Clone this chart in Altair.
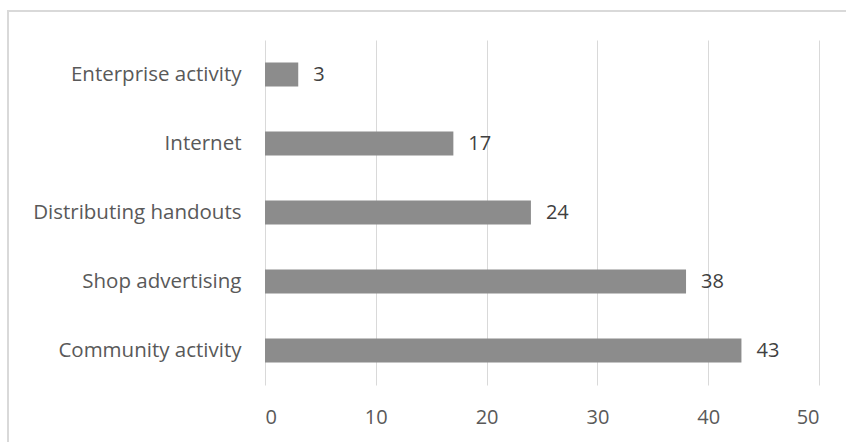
import altair as alt
import pandas as pd

categories = ["Enterprise activity", "Internet", "Distributing handouts", "Shop advertising", "Community activity"]
values = [3, 17, 24, 38, 43]
x_ticks = [0, 10, 20, 30, 40, 50]

df = pd.DataFrame({"category": categories, "value": values})

FONT = "Open Sans"
LEFT, TOP = 265, 40
W, H = 554, 345

base = alt.Chart(df)

border = alt.Chart(pd.DataFrame({"a": [0]})).mark_rect(
    fill=None, stroke="#d9d9d9", strokeWidth=2, clip=False
).encode(
    x=alt.value(8 - LEFT), x2=alt.value(900 - LEFT),
    y=alt.value(11 - TOP), y2=alt.value(500 - TOP),
)

x_axis = alt.Axis(values=x_ticks, title=None, grid=True, gridColor="#d9d9d9",
                  domain=False, ticks=False, labelFont=FONT, labelFontSize=20,
                  labelColor="#595959", labelPadding=22)
y_axis = alt.Axis(title=None, domain=False, ticks=False, labelFont=FONT,
                  labelFontSize=20.5, labelColor="#595959", labelPadding=24,
                  labelLimit=400)
x_scale = alt.Scale(domain=[0, 50], nice=False)
y_scale = alt.Scale(paddingInner=0.65, paddingOuter=0.325)

bars = base.mark_bar(color="#8c8c8c").encode(
    x=alt.X("value:Q", scale=x_scale, axis=x_axis),
    y=alt.Y("category:N", sort=categories, scale=y_scale, axis=y_axis),
)

labels = base.mark_text(align="left", baseline="middle", dx=15, font=FONT,
                        fontSize=20, color="#404040").encode(
    x=alt.X("value:Q", scale=x_scale, axis=x_axis),
    y=alt.Y("category:N", sort=categories, scale=y_scale, axis=y_axis),
    text="value:Q",
)

chart = alt.layer(border, bars, labels).properties(
    width=W, height=H,
    background="white",
    autosize=alt.AutoSizeParams(type="none"),
    padding={"left": LEFT, "top": TOP, "right": 846 - LEFT - W, "bottom": 442 - TOP - H},
).configure_view(stroke="transparent", strokeWidth=0)

chart.save("out.html", embed_options={"renderer": "svg", "actions": False})
